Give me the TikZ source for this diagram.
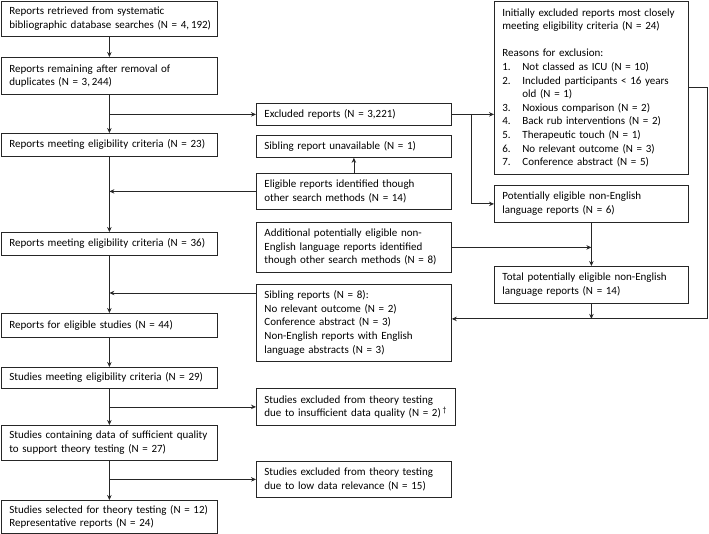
\documentclass[tikz,border=0pt]{standalone}
\usepackage{fontspec}
\setmainfont{Carlito}
\usetikzlibrary{arrows.meta}

\tikzset{
  box/.style={draw=black!85, line width=0.8pt, rectangle, anchor=north west, align=left,
    inner xsep=8pt, inner ysep=2pt, font=\fontsize{11}{13.6}\selectfont,
    execute at begin node={\rightskip=0pt plus 1fil minus 100pt}},
  lbox/.style={box, text width=200pt},
  rbox/.style={box, text width=179pt},
  flow/.style={draw=black!85, line width=0.8pt, -{Stealth[length=5pt,width=4.5pt]}}
}
\newcommand{\reason}[1]{\makebox[20pt][l]{#1}}

\begin{document}
\begin{tikzpicture}[x=1pt,y=-1pt]
  \useasboundingbox (0,0) rectangle (709,534);
  \node [lbox, minimum height=35pt] (ret) at (1,1)
    {Reports retrieved from systematic\\bibliographic database searches (N = 4,\,192)};
  \node [lbox, minimum height=37pt] (dup) at (1,57)
    {Reports remaining after removal of\\duplicates (N = 3,\,244)};
  \node [lbox, minimum height=23pt] (elA) at (1,133)
    {Reports meeting eligibility criteria (N = 23)};
  \node [lbox, minimum height=23pt] (elB) at (1,232)
    {Reports meeting eligibility criteria (N = 36)};
  \node [lbox, minimum height=24pt] (eligst) at (1,313)
    {Reports for eligible studies (N = 44)};
  \node [lbox, minimum height=21pt] (stel) at (1,367)
    {Studies meeting eligibility criteria (N = 29)};
  \node [lbox, minimum height=35pt] (suff) at (1,425)
    {Studies containing data of sufficient quality\\to support theory testing (N = 27)};
  \node [lbox, minimum height=33pt] (sel) at (1,500)
    {Studies selected for theory testing (N = 12)\\Representative reports (N = 24)};

  \node [rbox, minimum height=22pt] (excl) at (256,103)
    {Excluded reports (N = 3,221)};
  \node [rbox, minimum height=22pt] (sibun) at (256,135)
    {Sibling report unavailable (N = 1)};
  \node [rbox, minimum height=36pt] (other) at (256,173)
    {Eligible reports identified though\\other search methods (N = 14)};
  \node [rbox, minimum height=50pt] (addl) at (256,222)
    {Additional potentially eligible non-\\English language reports identified\\though other search methods (N = 8)};
  \node [rbox, minimum height=77pt] (sibs) at (256,284)
    {Sibling reports (N = 8):\\No relevant outcome (N = 2)\\Conference abstract (N = 3)\\Non-English reports with English\\language abstracts (N = 3)};
  \node [rbox, text width=183pt, minimum height=37pt] (insuf) at (256,388)
    {Studies excluded from theory testing\\due to insufficient data quality (N = 2)\,\textsuperscript{\textdagger}};
  \node [rbox, minimum height=36pt] (lowrel) at (256,461)
    {Studies excluded from theory testing\\due to low data relevance (N = 15)};

  \node [box, text width=178pt, minimum height=173pt] (init) at (494,1)
    {Initially excluded reports most closely\\meeting eligibility criteria (N = 24)\\[13.6pt]
     Reasons for exclusion:\\
     \reason{1.}Not classed as ICU (N = 10)\\
     \reason{2.}Included participants < 16 years\\
     \hspace*{20pt}old (N = 1)\\
     \reason{3.}Noxious comparison (N = 2)\\
     \reason{4.}Back rub interventions (N = 2)\\
     \reason{5.}Therapeutic touch (N = 1)\\
     \reason{6.}No relevant outcome (N = 3)\\
     \reason{7.}Conference abstract (N = 5)};
  \node [box, text width=178pt, minimum height=37pt] (pot) at (494,185)
    {Potentially eligible non-English\\language reports (N = 6)};
  \node [box, text width=178pt, minimum height=37pt] (tot) at (494,266)
    {Total potentially eligible non-English\\language reports (N = 14)};

  \coordinate (fork) at (471,114);
  \coordinate (sibin) at ([yshift=-9pt]sibs.north west);
  \coordinate (merge) at ([yshift=4pt]sibs.east);

  \draw [flow] (ret.south)--(dup.north);
  \draw [flow] (dup.south)--(elA.north);
  \draw [flow] (dup.south |- excl.west)--(excl.west);
  \draw [flow] (excl.east)--(init.west |- excl.east);
  \draw [flow] (fork) |- (pot.west);
  \draw [flow] (other.north)--(sibun.south);
  \draw [flow] (other.west)--(elA.south |- other.west);
  \draw [flow] (elA.south)--(elB.north);
  \draw [flow] (addl.east)--(pot.south |- addl.east);
  \draw [flow] (pot.south)--(tot.north);
  \draw [flow] (tot.south)--(tot.south |- merge);
  \draw [flow] (init.east)--++(19,0) |- (merge);
  \draw [flow] (sibin)--(elB.south |- sibin);
  \draw [flow] (elB.south)--(eligst.north);
  \draw [flow] (eligst.south)--(stel.north);
  \draw [flow] (stel.south)--(suff.north);
  \draw [flow] (stel.south |- insuf.west)--(insuf.west);
  \draw [flow] (suff.south)--(sel.north);
  \draw [flow] (suff.south |- lowrel.west)--(lowrel.west);
\end{tikzpicture}
\end{document}
